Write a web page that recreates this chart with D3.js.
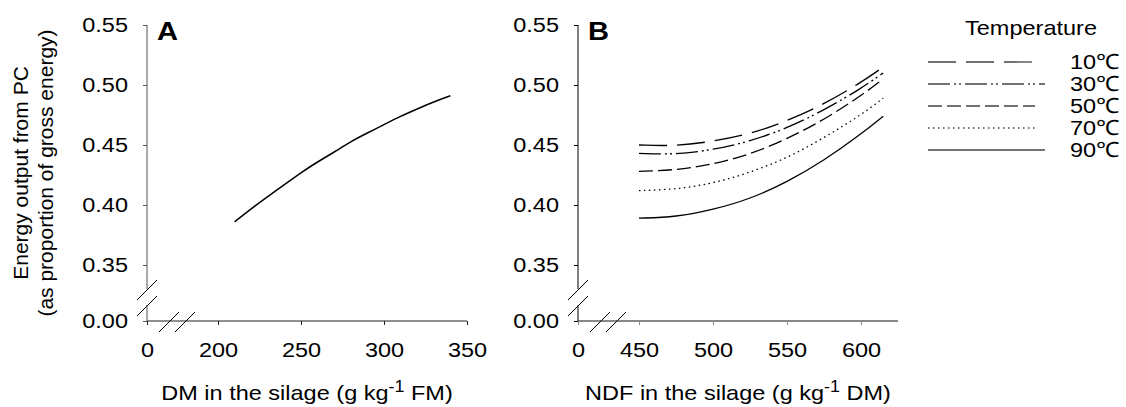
<!DOCTYPE html>
<html>
<head>
<meta charset="utf-8">
<script src="https://cdn.jsdelivr.net/npm/d3@7"></script>
<style>
  body { margin: 0; background: #fff; }
  text { font-family: Arial, "Liberation Sans", sans-serif; fill: #000; }
</style>
</head>
<body>
<svg id="chart" width="1126" height="407"></svg>
<script>
// panel A: DM in the silage vs energy output
const dmValues = [210, 220, 230, 240, 250, 260, 270, 280, 290, 300, 310, 320, 330, 340];
const energyA = [0.386, 0.397, 0.407, 0.417, 0.427, 0.436, 0.444, 0.453, 0.460, 0.467, 0.474, 0.480, 0.486, 0.491];

// panel B: NDF in the silage, one curve per temperature
const ndfValues = [450, 475, 500, 525, 550, 575, 600, 615];
const temps = ['10℃', '30℃', '50℃', '70℃', '90℃'];
const energy10 = [0.450, 0.449, 0.453, 0.459, 0.470, 0.484, 0.502, 0.515];
const energy30 = [0.443, 0.442, 0.446, 0.453, 0.464, 0.479, 0.497, 0.510];
const energy50 = [0.428, 0.429, 0.434, 0.442, 0.455, 0.471, 0.491, 0.505];
const energy70 = [0.412, 0.413, 0.418, 0.427, 0.439, 0.456, 0.475, 0.489];
const energy90 = [0.389, 0.390, 0.396, 0.405, 0.419, 0.437, 0.459, 0.474];

const yTicks = [0, 0.35, 0.40, 0.45, 0.50, 0.55];
const xTicksA = [0, 200, 250, 300, 350];
const xTicksB = [0, 450, 500, 550, 600];

const dashes = ['28,10', '22,4,2,3,2,4', '14,5', '1.5,3.5', null];
const series = [energy10, energy30, energy50, energy70, energy90];

const svg = d3.select('#chart');
const sx = 1.12; // text in the source is a little wider than it is tall

// shared y scale with a break between 0 and 0.35
const y = d3.scaleLinear().domain([0, 0.35, 0.55]).range([321, 265, 25]);
const yBreakTop = 289, yBreakBottom = 305;

function drawPanel(left, xDomain, xRange, xTicks, xColor, xWidth, yColor, letter, title) {
  const x = d3.scaleLinear().domain(xDomain).range(xRange);
  const g = svg.append('g');

  // x axis
  const xa = g.append('g').attr('transform', 'translate(0,' + y(0) + ')')
    .call(d3.axisBottom(x).tickValues(xTicks).tickSize(4).tickPadding(17).tickFormat(d3.format('d')));
  xa.select('.domain').attr('stroke', xColor).attr('stroke-width', xWidth)
    .attr('d', 'M' + xRange[0] + ',0H' + xRange[xRange.length - 1]);
  xa.selectAll('.tick line').attr('stroke', xColor);
  xa.selectAll('.tick text').style('font-size', '21px').attr('transform', 'scale(' + sx + ',1)');

  // y axis, drawn in two pieces around the break
  const ya = g.append('g').attr('transform', 'translate(' + left + ',0)')
    .call(d3.axisLeft(y).tickValues(yTicks).tickSize(4).tickPadding(15).tickFormat(d3.format('.2f')));
  ya.select('.domain').remove();
  ya.selectAll('.tick line').attr('stroke', yColor);
  ya.selectAll('.tick text').style('font-size', '21px').attr('transform', 'scale(' + sx + ',1)')
    .attr('x', -19 / sx);
  ya.append('line').attr('x1', 0).attr('x2', 0).attr('y1', y(0.55)).attr('y2', yBreakTop)
    .attr('stroke', yColor);
  ya.append('line').attr('x1', 0).attr('x2', 0).attr('y1', yBreakBottom).attr('y2', y(0))
    .attr('stroke', yColor);

  // break marks
  const brk = g.append('g').attr('stroke', '#000').attr('stroke-width', 1);
  [[left - 10, 300, left + 10, 280], [left - 10, 316, left + 10, 296],
   [x(0) + 12, 332, x(0) + 32, 312], [x(0) + 28, 332, x(0) + 48, 312]].forEach(s => {
    brk.append('line').attr('x1', s[0]).attr('y1', s[1]).attr('x2', s[2]).attr('y2', s[3]);
  });

  // panel letter
  g.append('text').attr('transform', 'translate(' + (left + 10) + ',40) scale(' + sx + ',1)')
    .style('font-size', '26px').style('font-weight', 'bold').text(letter);

  // x title
  const midX = (xRange[0] + xRange[xRange.length - 1]) / 2;
  const t = g.append('text').attr('transform', 'translate(' + midX + ',400) scale(' + sx + ',1)')
    .attr('text-anchor', 'middle').style('font-size', '21px');
  t.append('tspan').text(title[0]);
  t.append('tspan').attr('dy', -8).style('font-size', '16px').text('-1');
  t.append('tspan').attr('dy', 8).text(title[1]);

  return x;
}

const xA = drawPanel(147, [0, 200, 350], [147, 218, 467], xTicksA, '#222', 1.2, '#555', 'A',
  ['DM in the silage (g kg', ' FM)']);
const xB = drawPanel(578, [0, 450, 625], [578, 639, 898], xTicksB, '#888', 2.2, '#000', 'B',
  ['NDF in the silage (g kg', ' DM)']);

// y title (panel A only)
const yt = svg.append('text').attr('transform', 'translate(28,173) rotate(-90)')
  .attr('text-anchor', 'middle').style('font-size', '21px');
yt.append('tspan').attr('x', 0).text('Energy output from PC');
yt.append('tspan').attr('x', 0).attr('dy', 25).text('(as proportion of gross energy)');

// curves
const lineA = d3.line().x((d, i) => xA(dmValues[i])).y(d => y(d)).curve(d3.curveBasis);
svg.append('path').datum(energyA).attr('d', lineA)
  .attr('fill', 'none').attr('stroke', '#000').attr('stroke-width', 1.5);

const lineB = d3.line().x((d, i) => xB(ndfValues[i])).y(d => y(d)).curve(d3.curveBasis);
series.forEach((s, k) => {
  svg.append('path').datum(s).attr('d', lineB)
    .attr('fill', 'none').attr('stroke', '#000').attr('stroke-width', 1.3)
    .attr('stroke-dasharray', dashes[k]);
});

// legend
const legend = svg.append('g');
legend.append('text').attr('transform', 'translate(1031,35) scale(' + sx + ',1)')
  .attr('text-anchor', 'middle').style('font-size', '21px').text('Temperature');
const rowY = d3.scalePoint().domain(temps).range([62, 150]);
temps.forEach((tLabel, k) => {
  const ry = rowY(tLabel);
  legend.append('line').attr('x1', 928).attr('x2', k === 1 || k === 4 ? 1045 : 1035)
    .attr('y1', ry).attr('y2', ry).attr('stroke', '#444').attr('stroke-width', 1.3)
    .attr('stroke-dasharray', dashes[k]);
  legend.append('text').attr('transform', 'translate(1070,' + (ry + 7) + ') scale(' + sx + ',1)')
    .style('font-size', '21px').text(tLabel);
});
</script>
</body>
</html>
